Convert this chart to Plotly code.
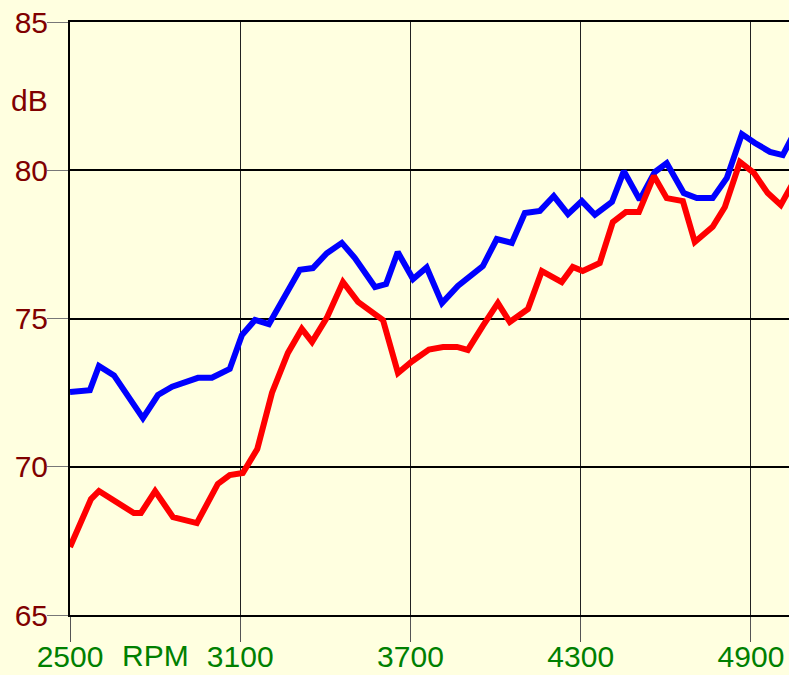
import plotly.graph_objects as go

rpm_blue = [2500, 2570, 2602, 2655, 2757, 2810, 2860, 2951, 3000, 3063, 3106, 3152, 3201,
            3310, 3356, 3405, 3458, 3504, 3575, 3614, 3655, 3709, 3757, 3811, 3867, 3909,
            3955, 4004, 4057, 4103, 4156, 4205, 4255, 4304, 4350, 4410, 4452, 4508, 4561,
            4603, 4663, 4709, 4765, 4815, 4868, 4914, 4967, 5012, 5050]
db_blue = [72.52, 72.58, 73.40, 73.08, 71.64, 72.42, 72.70, 73.0, 73.0, 73.30, 74.44, 74.95, 74.81,
           76.64, 76.70, 77.20, 77.55, 77.04, 76.06, 76.16, 77.24, 76.33, 76.72, 75.52, 76.10, 76.40,
           76.77, 77.68, 77.55, 78.56, 78.63, 79.13, 78.52, 78.96, 78.50, 78.93, 79.97, 79.00, 79.94,
           80.24, 79.23, 79.06, 79.06, 79.74, 81.22, 80.92, 80.62, 80.51, 81.2]

rpm_red = [2500, 2574, 2602, 2665, 2725, 2750, 2800, 2863, 2947, 3021, 3063, 3109, 3160,
           3212, 3268, 3317, 3353, 3405, 3462, 3515, 3582, 3603, 3656, 3705, 3765, 3815,
           3864, 3902, 3955, 4008, 4050, 4114, 4163, 4233, 4272, 4307, 4367, 4413, 4459,
           4505, 4558, 4603, 4660, 4702, 4765, 4808, 4861, 4910, 4959, 5005, 5050]
db_red = [67.29, 68.91, 69.18, 68.78, 68.44, 68.44, 69.18, 68.30, 68.10, 69.42, 69.72, 69.79, 70.6,
          72.5, 73.84, 74.65, 74.21, 75.02, 76.23, 75.56, 75.12, 74.95, 73.16, 73.55, 73.95, 74.04,
          74.04, 73.94, 74.75, 75.52, 74.88, 75.32, 76.60, 76.23, 76.74, 76.60, 76.87, 78.25, 78.59,
          78.59, 79.81, 79.06, 78.96, 77.58, 78.09, 78.76, 80.28, 79.91, 79.23, 78.83, 79.6]

x_ticks = [2500, 3100, 3700, 4300, 4900]
y_ticks = [65, 70, 75, 80, 85]

BG = "#FFFFE0"
FONT = "Arial, Liberation Sans, sans-serif"

fig = go.Figure()
fig.add_trace(go.Scatter(x=rpm_blue, y=db_blue, mode="lines",
                         line=dict(color="#0000FF", width=6), showlegend=False))
fig.add_trace(go.Scatter(x=rpm_red, y=db_red, mode="lines",
                         line=dict(color="#FF0000", width=6), showlegend=False))

fig.update_xaxes(range=[2500, 5034], tickvals=x_ticks,
                 showgrid=True, gridcolor="#222222", gridwidth=1,
                 showline=True, linecolor="black", linewidth=2, mirror=True,
                 ticks="outside", ticklen=25, tickcolor="#555555", tickwidth=1,
                 ticklabelstandoff=-11,
                 tickfont=dict(family=FONT, size=30, color="#008000"),
                 zeroline=False, automargin=False)
fig.update_yaxes(range=[65, 85], tickvals=y_ticks,
                 showgrid=True, gridcolor="black", gridwidth=2,
                 showline=True, linecolor="black", linewidth=2,
                 ticks="outside", ticklen=21, tickcolor="#777777", tickwidth=1,
                 ticklabelstandoff=-7,
                 tickfont=dict(family=FONT, size=30, color="#800000"),
                 zeroline=False, automargin=False)

fig.add_annotation(text="dB", xref="paper", yref="paper", x=-0.056, y=(615 - 100) / 593,
                   showarrow=False, xanchor="center", yanchor="middle",
                   font=dict(family=FONT, size=30, color="#800000"))
fig.add_annotation(text="RPM", xref="x", yref="paper", x=2800, y=-40 / 593,
                   showarrow=False, xanchor="center", yanchor="middle",
                   font=dict(family=FONT, size=30, color="#008000"))

fig.update_layout(width=789, height=675, paper_bgcolor=BG, plot_bgcolor=BG,
                  margin=dict(l=70, r=0, t=22, b=60), showlegend=False)

fig.write_html("out.html", config={"displayModeBar": False},
               post_script="document.body.style.margin='0';document.body.style.overflow='hidden';")
